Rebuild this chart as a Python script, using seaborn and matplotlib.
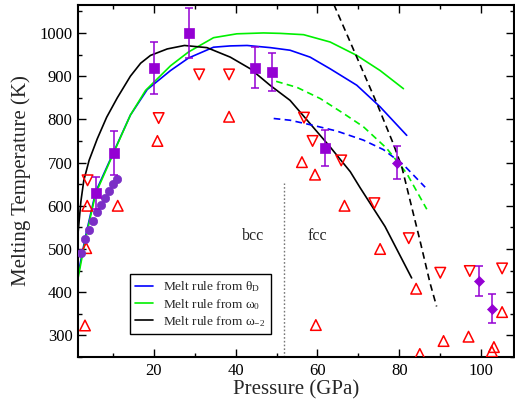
import matplotlib
matplotlib.use("Agg")
import matplotlib.pyplot as plt
import seaborn as sns
from matplotlib.lines import Line2D

# ---------------- data ----------------
# Melt rule curves (solid)
p_theta = [1.5, 3.3, 5.8, 9.85, 14.3, 18.4, 24.1, 28.5, 34.6, 38.7, 42.8, 48.5,
           53.3, 58.2, 63.1, 69.6, 75.3, 81.8]
t_theta = [440, 528, 632, 717, 810, 869, 913, 942, 967, 970, 971, 966,
           960, 944, 917, 879, 829, 763]

p_w0 = [1.5, 3.3, 5.8, 9.85, 14.3, 18.0, 24.1, 28.5, 34.6, 40.3, 46.8, 50.9,
        56.6, 63.1, 69.6, 75.3, 81.0]
t_w0 = [432, 522, 628, 715, 810, 867, 924, 956, 989, 998, 1000, 999,
        996, 979, 948, 913, 871]

p_wm2 = [1.5, 2.2, 2.9, 4.2, 6.2, 8.5, 11.1, 14.3, 16.8, 19.2, 23.3, 27.5, 33.0,
         38.7, 43.6, 48.4, 53.3, 58.2, 63.1, 68.0, 70.4, 76.5, 83.0]
t_wm2 = [536, 610, 658, 705, 755, 805, 850, 900, 930, 948, 963, 971, 966,
         944, 917, 879, 844, 790, 736, 679, 642, 552, 433]

# dashed continuations
p_theta_d = [49.3, 53.3, 59.0, 64.7, 71.2, 76.1, 81.0, 86.3]
t_theta_d = [802, 798, 786, 773, 752, 730, 695, 643]

p_w0_d = [49.9, 55.0, 60.7, 66.3, 71.2, 76.9, 81.8, 86.7]
t_w0_d = [888, 874, 848, 814, 783, 733, 675, 592]

p_wm2_d = [64.0, 69.6, 74.5, 78.5, 80.6, 82.6, 85.0, 87.5, 89.1]
t_wm2_d = [1066, 944, 837, 744, 690, 613, 521, 421, 367]

# experimental points with error bars
p_sq = [5.8, 10.3, 20.0, 28.6, 44.7, 48.8, 61.8]
t_sq = [630, 722, 918, 1000, 920, 910, 733]
e_sq = [37, 50, 60, 58, 48, 44, 42]

p_dia = [79.5, 99.4, 102.7]
t_dia = [700, 426, 362]
e_dia = [38, 34, 33]

p_circ = [2.29, 3.27, 4.24, 5.2, 6.2, 7.17, 8.15, 9.12, 10.1, 11.07]
t_circ = [490, 524, 544, 565, 585, 602, 617, 634, 650, 661]

p_up = [3.2, 3.5, 3.75, 11.2, 20.9, 38.4, 56.2, 59.4, 59.6, 66.6, 75.3, 84.1,
        85.0, 90.8, 96.9, 102.6, 103.1, 105.1]
t_up = [323, 502, 600, 600, 750, 806, 701, 672, 324, 600, 500, 408,
        257, 287, 297, 263, 273, 354]

p_down = [3.83, 21.2, 31.1, 38.4, 56.7, 58.8, 65.8, 73.9, 82.3, 90.0, 97.2, 105.1]
t_down = [659, 803, 904, 904, 804, 750, 705, 606, 525, 445, 449, 455]

legend_labels = ["Melt rule from θ$_{\\mathrm{D}}$",
                 "Melt rule from ω$_{\\mathrm{0}}$",
                 "Melt rule from ω$_{\\mathrm{-2}}$"]

# ---------------- style ----------------
sns.set_theme(style="ticks")
plt.rcParams["font.family"] = ["Liberation Serif", "DejaVu Serif"]
plt.rcParams["mathtext.fontset"] = "custom"
plt.rcParams["mathtext.rm"] = "Liberation Serif"
plt.rcParams["mathtext.it"] = "Liberation Serif:italic"

BLUE = "#0000ff"
GREEN = "#00f000"
BLACK = "#000000"
PURPLE = "#9400d3"
CIRC = "#7b2fc6"
RED = "#ff0000"

fig = plt.figure(figsize=(5.15, 4.05), dpi=100)
ax = fig.add_axes([0.1515, 0.1185, 0.8465, 0.8695])

lw = 1.2
dash = (0, (4, 2.6))
sns.lineplot(x=p_theta, y=t_theta, ax=ax, color=BLUE, lw=lw, sort=False, estimator=None)
sns.lineplot(x=p_w0, y=t_w0, ax=ax, color=GREEN, lw=lw, sort=False, estimator=None)
sns.lineplot(x=p_wm2, y=t_wm2, ax=ax, color=BLACK, lw=lw, sort=False, estimator=None)
sns.lineplot(x=p_theta_d, y=t_theta_d, ax=ax, color=BLUE, lw=lw, linestyle=dash,
             sort=False, estimator=None)
sns.lineplot(x=p_w0_d, y=t_w0_d, ax=ax, color=GREEN, lw=lw, linestyle=dash,
             sort=False, estimator=None)
sns.lineplot(x=p_wm2_d, y=t_wm2_d, ax=ax, color=BLACK, lw=lw, linestyle=dash,
             sort=False, estimator=None)

# phase boundary
ax.plot([51.7, 51.7], [250, 652], color="#777777", lw=1.0, linestyle=(0, (1.2, 1.5)))
ax.text(44.2, 529, "bcc", ha="center", va="center", fontsize=11.5)
ax.text(60.0, 529, "fcc", ha="center", va="center", fontsize=11.5)

# open triangles
sns.scatterplot(x=p_up, y=t_up, ax=ax, marker="^", s=58, facecolor="none",
                edgecolor=RED, linewidth=1.1, zorder=4)
sns.scatterplot(x=p_down, y=t_down, ax=ax, marker="v", s=58, facecolor="none",
                edgecolor=RED, linewidth=1.1, zorder=4)

# purple circles
sns.scatterplot(x=p_circ, y=t_circ, ax=ax, marker="o", s=36, color=CIRC,
                edgecolor=CIRC, linewidth=0.5, zorder=5)

# squares and diamonds with error bars
ax.errorbar(p_sq, t_sq, yerr=e_sq, fmt="none", ecolor=PURPLE, elinewidth=1.1,
            capsize=3.2, capthick=1.1, zorder=5)
ax.errorbar(p_dia, t_dia, yerr=e_dia, fmt="none", ecolor=PURPLE, elinewidth=1.1,
            capsize=3.2, capthick=1.1, zorder=5)
sns.scatterplot(x=p_sq, y=t_sq, ax=ax, marker="s", s=44, color=PURPLE,
                edgecolor=PURPLE, linewidth=0.5, zorder=6)
sns.scatterplot(x=p_dia, y=t_dia, ax=ax, marker="D", s=26, color=PURPLE,
                edgecolor=PURPLE, linewidth=0.5, zorder=6)

# axes
ax.set_xlim(1.5, 108)
ax.set_ylim(250, 1065)
ax.set_xticks([20, 40, 60, 80, 100])
ax.set_xticks([10, 30, 50, 70, 90], minor=True)
ax.set_yticks([300, 400, 500, 600, 700, 800, 900, 1000])
ax.set_yticks([250, 350, 450, 550, 650, 750, 850, 950, 1050], minor=True)
ax.tick_params(which="both", direction="in", top=True, right=True, width=1.0,
               labelsize=12, colors="black")
ax.tick_params(which="major", length=6, pad=4)
ax.tick_params(which="minor", length=3)
for s in ax.spines.values():
    s.set_linewidth(1.5)
    s.set_color("black")
ax.set_xlabel("Pressure (GPa)", fontsize=15, labelpad=1)
ax.set_ylabel("Melting Temperature (K)", fontsize=15, labelpad=6)

handles = [Line2D([], [], color=c, lw=lw) for c in (BLUE, GREEN, BLACK)]
leg = ax.legend(handles, legend_labels, loc="lower left",
                bbox_to_anchor=(0.119, 0.065), borderaxespad=0, fontsize=9.6,
                frameon=True, fancybox=False, edgecolor="black", framealpha=1,
                handlelength=1.3, handletextpad=0.8, labelspacing=0.18,
                borderpad=0.4)
leg.get_frame().set_linewidth(1.0)

fig.savefig("out.png", dpi=100)
